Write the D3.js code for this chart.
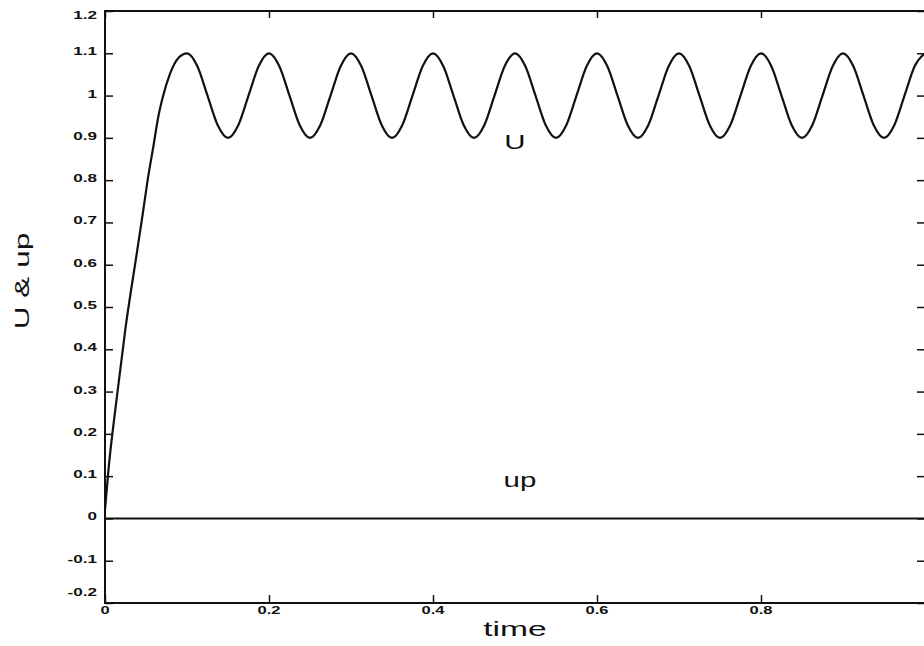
<!DOCTYPE html>
<html>
<head>
<meta charset="utf-8">
<script src="https://cdn.jsdelivr.net/npm/d3@7/dist/d3.min.js"></script>
<style>
  html, body { margin: 0; padding: 0; background: #fff; }
  svg { display: block; }
  text { font-family: "Liberation Sans", Arial, sans-serif; fill: #111; }
</style>
</head>
<body>
<svg id="chart" width="924" height="646"></svg>
<script>
// Simulated signals: U rises from zero, then oscillates around 1; up stays at 0.
const timeU = [
  0, 0.004, 0.014, 0.025, 0.039, 0.046, 0.052, 0.059, 0.065, 0.071, 0.079, 0.09,
  0.1, 0.1125, 0.125, 0.1375, 0.15, 0.1625, 0.175, 0.1875,
  0.2, 0.2125, 0.225, 0.2375, 0.25, 0.2625, 0.275, 0.2875,
  0.3, 0.3125, 0.325, 0.3375, 0.35, 0.3625, 0.375, 0.3875,
  0.4, 0.4125, 0.425, 0.4375, 0.45, 0.4625, 0.475, 0.4875,
  0.5, 0.5125, 0.525, 0.5375, 0.55, 0.5625, 0.575, 0.5875,
  0.6, 0.6125, 0.625, 0.6375, 0.65, 0.6625, 0.675, 0.6875,
  0.7, 0.7125, 0.725, 0.7375, 0.75, 0.7625, 0.775, 0.7875,
  0.8, 0.8125, 0.825, 0.8375, 0.85, 0.8625, 0.875, 0.8875,
  0.9, 0.9125, 0.925, 0.9375, 0.95, 0.9625, 0.975, 0.9875,
  1.0
];
const valuesU = [
  0.02, 0.11, 0.28, 0.45, 0.63, 0.72, 0.80, 0.88, 0.95, 1.0, 1.05, 1.09,
  1.1, 1.07, 1.0, 0.93, 0.9, 0.93, 1.0, 1.07,
  1.1, 1.07, 1.0, 0.93, 0.9, 0.93, 1.0, 1.07,
  1.1, 1.07, 1.0, 0.93, 0.9, 0.93, 1.0, 1.07,
  1.1, 1.07, 1.0, 0.93, 0.9, 0.93, 1.0, 1.07,
  1.1, 1.07, 1.0, 0.93, 0.9, 0.93, 1.0, 1.07,
  1.1, 1.07, 1.0, 0.93, 0.9, 0.93, 1.0, 1.07,
  1.1, 1.07, 1.0, 0.93, 0.9, 0.93, 1.0, 1.07,
  1.1, 1.07, 1.0, 0.93, 0.9, 0.93, 1.0, 1.07,
  1.1, 1.07, 1.0, 0.93, 0.9, 0.93, 1.0, 1.07,
  1.1
];
const timeUp = [0, 1];
const valuesUp = [0, 0];

const xTicks = [0, 0.2, 0.4, 0.6, 0.8, 1];
const xLabelTicks = [0, 0.2, 0.4, 0.6, 0.8];
const xTickLabels = ["0", "0.2", "0.4", "0.6", "0.8"];
const yTicks = [-0.2, -0.1, 0, 0.1, 0.2, 0.3, 0.4, 0.5, 0.6, 0.7, 0.8, 0.9, 1, 1.1, 1.2];
const yTickLabels = ["-0.2", "-0.1", "0", "0.1", "0.2", "0.3", "0.4", "0.5", "0.6", "0.7", "0.8", "0.9", "1", "1.1", "1.2"];
const xTitle = "time";
const yTitle = "U & up";
const seriesLabels = [
  { text: "U", t: 0.5, v: 0.873 },
  { text: "up", t: 0.506, v: 0.075 }
];

const svg = d3.select("#chart");
const plotL = 105, plotR = 925, plotT = 11, plotB = 603;

const x = d3.scaleLinear().domain([0, 1]).range([plotL, plotR]);
const y = d3.scaleLinear().domain([-0.2, 1.2]).range([plotB, plotT]);

// Stretch text horizontally (wide lettering)
function widen(sel, k) {
  sel.each(function () {
    const w = this.getComputedTextLength();
    d3.select(this).attr("textLength", w * k).attr("lengthAdjust", "spacingAndGlyphs");
  });
}

const ink = "#111";

// Frame
svg.append("rect")
  .attr("x", plotL).attr("y", plotT)
  .attr("width", plotR - plotL).attr("height", plotB - plotT)
  .attr("fill", "none").attr("stroke", ink).attr("stroke-width", 2);

// Axes with inward ticks on all four sides
const gBottom = svg.append("g").attr("transform", `translate(0,${plotB})`)
  .call(d3.axisTop(x).tickValues(xTicks).tickSize(8).tickFormat(""));
const gTop = svg.append("g").attr("transform", `translate(0,${plotT})`)
  .call(d3.axisBottom(x).tickValues(xTicks).tickSize(7).tickFormat(""));
const gLeft = svg.append("g").attr("transform", `translate(${plotL},0)`)
  .call(d3.axisRight(y).tickValues(yTicks).tickSize(8).tickFormat(""));
const gRight = svg.append("g").attr("transform", `translate(${plotR},0)`)
  .call(d3.axisLeft(y).tickValues(yTicks).tickSize(8).tickFormat(""));
[gBottom, gTop, gLeft, gRight].forEach(g => {
  g.select(".domain").remove();
  g.selectAll(".tick line").attr("stroke", ink).attr("stroke-width", 1.5);
});

// X tick labels
const xl = svg.append("g").selectAll("text")
  .data(xLabelTicks)
  .join("text")
  .attr("x", d => x(d))
  .attr("y", plotB + 11)
  .attr("text-anchor", "middle")
  .attr("font-size", 11)
  .attr("font-weight", "bold")
  .text((d, i) => xTickLabels[i]);
widen(xl, 1.5);

// Y tick labels
const yl = svg.append("g").selectAll("text")
  .data(yTicks)
  .join("text")
  .attr("x", plotL - 8)
  .attr("y", d => Math.max(plotT + 4, Math.min(plotB - 11, y(d) - 2)) + 4)
  .attr("text-anchor", "end")
  .attr("font-size", 11)
  .attr("font-weight", "bold")
  .text((d, i) => yTickLabels[i]);
widen(yl, 1.55);

// Axis titles
const xt = svg.append("text")
  .attr("x", x(0.5)).attr("y", 636)
  .attr("text-anchor", "middle")
  .attr("font-size", 21)
  .text(xTitle);
widen(xt, 1.6);

const yt = svg.append("text")
  .attr("transform", "translate(29,281) rotate(-90)")
  .attr("text-anchor", "middle")
  .attr("font-size", 21)
  .text(yTitle);
widen(yt, 1.5);

// Series lines
const line = d3.line().x(d => x(d[0])).y(d => y(d[1])).curve(d3.curveMonotoneX);

svg.append("path")
  .datum(d3.zip(timeUp, valuesUp))
  .attr("d", line)
  .attr("fill", "none").attr("stroke", ink).attr("stroke-width", 2);

svg.append("path")
  .datum(d3.zip(timeU, valuesU))
  .attr("d", line)
  .attr("fill", "none").attr("stroke", ink).attr("stroke-width", 2.2)
  .attr("stroke-linejoin", "round");

// In-plot series labels
const sl = svg.append("g").selectAll("text")
  .data(seriesLabels)
  .join("text")
  .attr("x", d => x(d.t))
  .attr("y", d => y(d.v))
  .attr("text-anchor", "middle")
  .attr("font-size", 21)
  .text(d => d.text);
widen(sl, 1.4);
</script>
</body>
</html>
